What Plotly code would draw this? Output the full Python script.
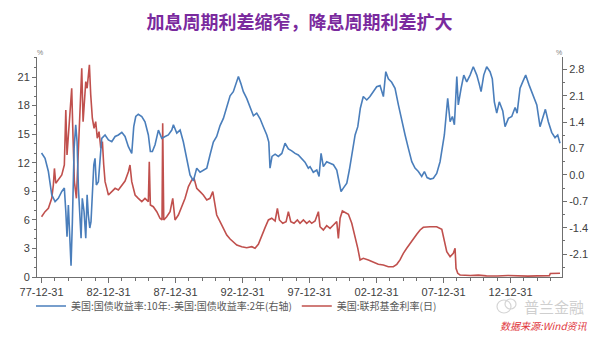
import plotly.graph_objects as go

# ---------------- data ----------------
blue_name = "美国:国债收益率:10年:-美国:国债收益率:2年(右轴)"
red_name = "美国:联邦基金利率(日)"

blue_years = [1978.00, 1978.26, 1978.51, 1978.76, 1979.01, 1979.25, 1979.51, 1979.70, 1979.81, 1979.90,
              1980.00, 1980.10, 1980.20, 1980.30, 1980.43, 1980.55, 1980.65, 1980.75, 1980.85, 1980.95,
              1981.04, 1981.17, 1981.30, 1981.40, 1981.49, 1981.60, 1981.69, 1981.79, 1981.90, 1981.99,
              1982.09, 1982.24, 1982.37, 1982.49, 1982.74, 1982.99, 1983.24, 1983.49, 1983.73, 1983.99,
              1984.23, 1984.48, 1984.73, 1984.88, 1985.03, 1985.22, 1985.48, 1985.72, 1985.97, 1986.12,
              1986.27, 1986.47, 1986.72, 1986.97, 1987.22, 1987.46, 1987.72, 1987.84, 1988.09, 1988.34,
              1988.58, 1988.84, 1989.08, 1989.33, 1989.58, 1989.83, 1990.07, 1990.33, 1990.57, 1990.82,
              1991.07, 1991.32, 1991.57, 1991.82, 1992.07, 1992.31, 1992.57, 1992.69, 1992.87, 1993.06,
              1993.31, 1993.56, 1993.81, 1994.06, 1994.31, 1994.55, 1994.81, 1994.96, 1995.05, 1995.20,
              1995.43, 1995.67, 1995.93, 1996.17, 1996.42, 1996.67, 1996.92, 1997.16, 1997.42, 1997.66,
              1997.91, 1998.04, 1998.28, 1998.54, 1998.71, 1998.86, 1999.03, 1999.28, 1999.53, 1999.78,
              2000.03, 2000.20, 2000.35, 2000.52, 2000.78, 2000.97, 2001.19, 2001.40, 2001.60, 2001.79,
              2002.01, 2002.27, 2002.51, 2002.76, 2003.01, 2003.26, 2003.51, 2003.69, 2003.88, 2004.13,
              2004.38, 2004.63, 2004.88, 2005.13, 2005.37, 2005.63, 2005.87, 2006.12, 2006.37, 2006.57,
              2006.77, 2007.01, 2007.24, 2007.49, 2007.74, 2007.87, 2008.06, 2008.31, 2008.49, 2008.66,
              2008.81, 2008.99, 2009.10, 2009.31, 2009.51, 2009.73, 2009.98, 2010.22, 2010.48, 2010.65,
              2010.80, 2011.00, 2011.22, 2011.47, 2011.64, 2011.79, 2011.97, 2012.16, 2012.42, 2012.59,
              2012.84, 2013.09, 2013.34, 2013.49, 2013.71, 2013.93, 2014.13, 2014.38, 2014.70, 2014.96,
              2015.20, 2015.45, 2015.60, 2015.82, 2016.07, 2016.32, 2016.52, 2016.69]
blue_vals = [0.58, 0.44, 0.09, -0.53, -0.71, -0.62, -0.44, -0.35, -0.97, -1.64,
             -0.80, -1.59, -2.41, -1.24, 0.71, 1.33, 0.88, -0.35, -1.06, -1.68,
             -0.62, -0.97, -1.68, -0.53, -1.06, -1.41, -1.24, -0.35, 0.27, 0.44,
             -0.27, -0.18, 0.53, 0.97, 1.06, 0.93, 0.88, 1.02, 1.06, 1.13,
             1.02, 0.75, 0.57, 1.28, 1.55, 1.61, 1.55, 1.41, 1.06, 0.62,
             0.62, 0.80, 1.19, 0.97, 1.02, 1.06, 1.19, 1.33, 1.11, 1.19,
             0.88, 0.44, 0.00, -0.16, 0.18, 0.07, 0.13, 0.18, 0.53, 0.87,
             1.02, 1.31, 1.50, 1.77, 2.10, 2.21, 2.49, 2.61, 2.43, 2.21,
             2.03, 1.77, 1.57, 1.64, 1.49, 1.28, 1.06, 0.87, 0.18, 0.49,
             0.55, 0.49, 0.57, 0.84, 0.69, 0.64, 0.57, 0.53, 0.44, 0.34,
             0.18, 0.22, 0.07, 0.13, -0.04, 0.57, 0.22, 0.35, 0.31, 0.27,
             0.13, -0.22, -0.44, -0.35, -0.22, 0.13, 0.57, 1.06, 1.28, 1.77,
             2.08, 1.99, 2.08, 2.21, 2.34, 2.37, 2.08, 2.74, 2.55, 2.46,
             2.30, 1.86, 1.50, 1.06, 0.71, 0.35, 0.18, 0.09, -0.04, 0.09,
             -0.07, -0.11, -0.09, 0.04, 0.35, 0.62, 1.06, 2.03, 1.41, 1.55,
             1.33, 2.61, 1.86, 2.30, 2.65, 2.47, 2.65, 2.87, 2.65, 2.43,
             2.21, 2.65, 2.87, 2.74, 2.55, 1.94, 1.64, 1.94, 1.70, 1.28,
             1.50, 1.55, 1.79, 1.64, 2.30, 2.49, 2.65, 2.39, 2.12, 1.86,
             1.28, 1.59, 1.74, 1.41, 1.13, 0.99, 1.06, 0.84]

red_years = [1978.00, 1978.26, 1978.51, 1978.76, 1978.88, 1978.96, 1979.06, 1979.25, 1979.51, 1979.70,
             1979.81, 1979.90, 1980.00, 1980.13, 1980.25, 1980.35, 1980.45, 1980.60, 1980.70, 1980.82,
             1980.93, 1981.00, 1981.10, 1981.19, 1981.30, 1981.40, 1981.49, 1981.57, 1981.67, 1981.79,
             1981.92, 1982.04, 1982.16, 1982.29, 1982.42, 1982.54, 1982.64, 1982.74, 1982.87, 1982.99,
             1983.24, 1983.49, 1983.73, 1983.99, 1984.23, 1984.48, 1984.60, 1984.73, 1984.98, 1985.22,
             1985.48, 1985.72, 1985.97, 1986.04, 1986.12, 1986.34, 1986.60, 1986.84, 1986.99, 1987.04,
             1987.12, 1987.34, 1987.59, 1987.79, 1987.96, 1988.21, 1988.46, 1988.71, 1988.96, 1989.21,
             1989.38, 1989.58, 1989.83, 1990.07, 1990.33, 1990.57, 1990.78, 1990.90, 1991.07, 1991.32,
             1991.57, 1991.82, 1992.07, 1992.31, 1992.57, 1992.94, 1993.31, 1993.69, 1993.93, 1994.18,
             1994.43, 1994.68, 1994.93, 1995.18, 1995.43, 1995.60, 1995.75, 1996.00, 1996.25, 1996.42,
             1996.60, 1996.84, 1997.09, 1997.29, 1997.54, 1997.79, 1997.99, 1998.16, 1998.41, 1998.66,
             1998.78, 1999.03, 1999.28, 1999.53, 1999.78, 2000.03, 2000.15, 2000.28, 2000.45, 2000.70,
             2000.90, 2001.15, 2001.40, 2001.60, 2001.77, 2002.01, 2002.39, 2002.76, 2003.13, 2003.51,
             2003.88, 2004.25, 2004.51, 2004.75, 2005.00, 2005.25, 2005.50, 2005.75, 2006.00, 2006.25,
             2006.49, 2006.99, 2007.49, 2007.87, 2008.06, 2008.24, 2008.49, 2008.73, 2008.86, 2008.93,
             2009.06, 2009.23, 2010.00, 2010.60, 2011.20, 2012.00, 2012.80, 2013.50, 2014.30, 2015.00,
             2015.90, 2015.97, 2016.69]
red_vals = [6.33, 6.86, 7.21, 8.26, 9.66, 11.40, 9.84, 10.19, 10.71, 11.76,
            17.54, 12.82, 14.92, 17.72, 19.82, 14.57, 10.01, 8.26, 11.76, 15.62,
            19.12, 21.92, 16.31, 18.77, 20.52, 19.82, 21.22, 22.27, 19.12, 16.67,
            15.62, 16.31, 14.57, 15.26, 13.52, 14.21, 11.76, 10.01, 9.31, 8.61,
            8.96, 9.31, 9.14, 9.66, 10.08, 11.06, 11.76, 10.01, 8.61, 8.26,
            7.91, 8.26, 7.91, 12.11, 7.56, 7.38, 6.86, 6.17, 5.99, 16.14,
            5.99, 6.33, 6.86, 8.26, 5.99, 6.51, 7.38, 8.26, 9.49, 10.19,
            10.37, 9.31, 8.96, 8.61, 8.09, 8.26, 8.96, 7.91, 6.51, 5.81,
            5.11, 4.41, 3.99, 3.64, 3.36, 3.18, 3.08, 3.18, 3.01, 3.43,
            4.41, 5.18, 5.99, 6.17, 5.88, 7.21, 5.99, 5.64, 5.81, 6.86,
            5.81, 5.64, 5.99, 5.64, 5.99, 5.64, 5.88, 5.64, 5.88, 6.86,
            5.28, 4.94, 5.39, 5.11, 5.46, 5.81, 4.06, 6.17, 6.93, 6.69,
            6.59, 5.64, 4.23, 3.01, 1.79, 1.96, 1.79, 1.54, 1.33, 1.26,
            1.08, 1.08, 1.33, 1.79, 2.49, 3.01, 3.54, 3.99, 4.48, 4.94,
            5.22, 5.28, 5.28, 5.00, 3.89, 2.66, 2.13, 2.49, 3.01, 0.91,
            0.39, 0.21, 0.16, 0.20, 0.12, 0.10, 0.16, 0.10, 0.09, 0.12,
            0.14, 0.37, 0.40]

x_tick_vals = [1978, 1983, 1988, 1993, 1998, 2003, 2008, 2013]
x_tick_text = ["77-12-31", "82-12-31", "87-12-31", "92-12-31", "97-12-31", "02-12-31", "07-12-31", "12-12-31"]
left_ticks = [0, 3, 6, 9, 12, 15, 18, 21]
right_ticks = [-2.1, -1.4, -0.7, 0.0, 0.7, 1.4, 2.1, 2.8]

title_text = "加息周期利差缩窄，降息周期利差扩大"
watermark_text = "普兰金融"
source_text = "数据来源:Wind资讯"

# ---------------- layout helpers ----------------
W, H = 600, 338
L, R, T, B = 37, 38, 57, 61
PW, PH = W - L - R, H - T - B


def px(xp):
    return (xp - L) / PW


def py(yp):
    return (H - B - yp) / PH


AX = "#6f6f6f"
TXT = "#404040"
CJK = "Noto Sans CJK SC"

fig = go.Figure()
fig.add_trace(go.Scatter(x=blue_years, y=blue_vals, name=blue_name, mode="lines", yaxis="y2",
                         line=dict(color="#4A7EBB", width=1.6)))
fig.add_trace(go.Scatter(x=red_years, y=red_vals, name=red_name, mode="lines", yaxis="y",
                         line=dict(color="#C0504D", width=1.6)))

fig.update_layout(
    width=W, height=H,
    margin=dict(l=L, r=R, t=T, b=B, pad=0),
    paper_bgcolor="white", plot_bgcolor="white",
    font=dict(family="Liberation Sans, Arial", size=11, color=TXT),
    title=dict(text="<b>" + title_text + "</b>", x=0.5, xanchor="center", xref="paper",
               y=1 - 23 / H, yanchor="middle", yref="container",
               font=dict(family=CJK, size=18, color="#7a2a9e")),
    showlegend=True,
    legend=dict(orientation="h", x=px(31), y=py(306), xanchor="left", yanchor="middle",
                font=dict(family=CJK, size=10, color="#595959"), bgcolor="rgba(0,0,0,0)",
                itemwidth=30, tracegroupgap=0),
    xaxis=dict(range=[1977.66, 2016.84], tickmode="array", tickvals=x_tick_vals, ticktext=x_tick_text,
               ticks="outside", ticklen=5, tickcolor=AX, showline=True, linecolor=AX, linewidth=1,
               showgrid=False, zeroline=False, tickfont=dict(size=11, color=TXT),
               minor=dict(tickmode="linear", tick0=1978, dtick=1, ticks="outside", ticklen=3, tickcolor=AX,
                          showgrid=False)),
    yaxis=dict(range=[0, 23.1], tickmode="array", tickvals=left_ticks, ticks="outside", ticklen=4,
               tickcolor=AX, showline=True, linecolor=AX, linewidth=1, showgrid=False, zeroline=False,
               tickfont=dict(size=11, color=TXT),
               minor=dict(tickmode="linear", tick0=0, dtick=1, ticks="outside", ticklen=2, tickcolor=AX,
                          showgrid=False)),
    yaxis2=dict(range=[-2.71, 3.13], overlaying="y", side="right", tickmode="array", tickvals=right_ticks,
                ticktext=["%.1f" % v for v in right_ticks], ticks="outside", ticklen=4, tickcolor=AX,
                showline=True, linecolor=AX, linewidth=1, showgrid=False, zeroline=False,
                tickfont=dict(size=11, color=TXT),
                minor=dict(tickmode="linear", tick0=0, dtick=0.35, ticks="outside", ticklen=2, tickcolor=AX,
                           showgrid=False)),
)

annotations = [
    dict(text="%", x=px(40), y=py(52), xref="paper", yref="paper", showarrow=False,
         font=dict(size=7, color="#808080"), xanchor="center", yanchor="middle"),
    dict(text="%", x=px(559), y=py(52), xref="paper", yref="paper", showarrow=False,
         font=dict(size=7, color="#808080"), xanchor="center", yanchor="middle"),
    dict(text=watermark_text, x=px(586), y=py(306), xref="paper", yref="paper", showarrow=False,
         font=dict(family=CJK, size=15, color="#cfcfcf"), xanchor="right", yanchor="middle", height=19),
    dict(text="<i>" + source_text + "</i>", x=px(590), y=py(325), xref="paper", yref="paper",
         showarrow=False, font=dict(family=CJK, size=10, color="#E0353B"), xanchor="right", yanchor="middle"),
]
fig.update_layout(annotations=annotations)

# small chat-bubble style logo next to the watermark
fig.add_shape(type="circle", xref="paper", yref="paper", x0=px(497), x1=px(511), y0=py(313), y1=py(300),
              line=dict(color="#d5d5d5", width=1.2))
fig.add_shape(type="circle", xref="paper", yref="paper", x0=px(505), x1=px(516), y0=py(309), y1=py(299),
              line=dict(color="#d5d5d5", width=1.2))

fig.write_html("out.html")
